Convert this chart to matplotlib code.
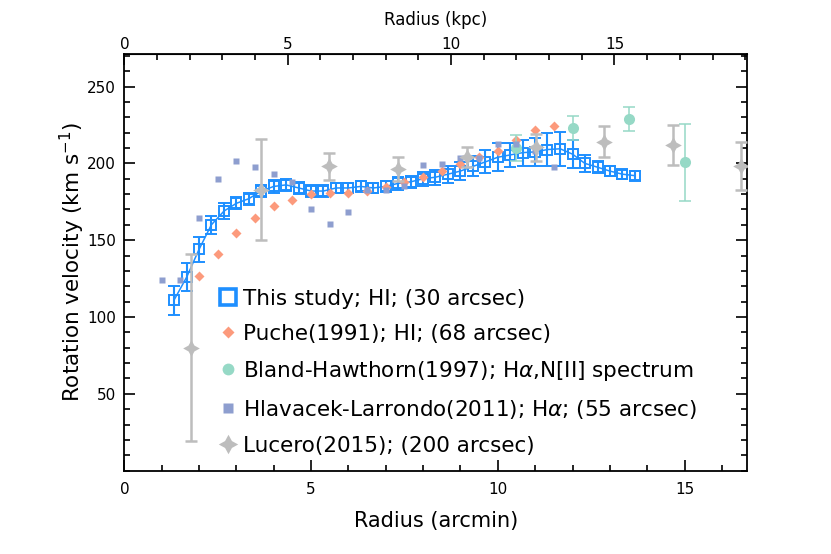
import matplotlib
matplotlib.use('Agg')
import matplotlib.pyplot as plt
from matplotlib.lines import Line2D
from matplotlib.ticker import MultipleLocator, FixedLocator
import numpy as np

plt.rcParams['font.family'] = ['DejaVu Sans']

KPC_PER_ARCMIN = 1.143

# This study; HI (30 arcsec)
hi_r = [1.33, 1.67, 2.00, 2.33, 2.67, 3.00, 3.33, 3.67, 4.00, 4.33, 4.67, 5.00, 5.33,
        5.67, 6.00, 6.33, 6.67, 7.00, 7.33, 7.67, 8.00, 8.33, 8.67, 9.00, 9.33, 9.67,
        10.00, 10.33, 10.67, 11.00, 11.33, 11.67, 12.00, 12.33, 12.67, 13.00, 13.33, 13.67]
hi_v = [111, 126, 144, 160, 169, 174, 177, 182, 185, 186, 184, 182, 182,
        184, 184, 185, 184, 185, 187, 188, 190, 191, 193, 195, 198, 201,
        204, 205.5, 207, 207.5, 209, 209.5, 206, 200, 197.5, 195, 193, 192]
hi_err = [9.5, 9, 8, 6, 5, 4, 4, 4, 4, 4, 4, 4, 4,
          3.5, 3.5, 3.5, 3.5, 3.5, 4, 4, 4.5, 5, 5.5, 6, 6.5, 7.5,
          9, 8, 8.5, 9, 11, 11, 9, 5.5, 4, 3.5, 3, 3]

# Puche (1991)
puche_r = [2.0, 2.5, 3.0, 3.5, 4.0, 4.5, 5.0, 5.5, 6.0, 6.5,
           7.0, 7.5, 8.0, 8.5, 9.0, 9.5, 10.0, 10.5, 11.0, 11.5]
puche_v = [126.5, 141, 154.5, 164.6, 172.3, 176.2, 179.8, 180.8, 181, 182,
           184.6, 188, 191.4, 195.3, 199.6, 204.4, 208.2, 215, 221.7, 224.5]

# Bland-Hawthorn (1997)
bh_r = [10.5, 12.0, 13.5, 15.0]
bh_v = [210, 223, 228.8, 200.6]
bh_err = [8.3, 8, 8, 25]

# Hlavacek-Larrondo (2011)
hl_r = [1.0, 1.5, 2.0, 2.5, 3.0, 3.5, 4.0, 4.5, 5.0, 5.5, 6.0, 6.5,
        7.0, 7.5, 8.0, 8.5, 9.0, 9.5, 10.0, 10.5, 11.0, 11.5]
hl_v = [124.3, 124.3, 164.3, 189.9, 201.3, 197.4, 193.1, 187.6, 170.1, 160.5, 168.4, 182.7,
        182.7, 185.5, 199.1, 199.6, 203.7, 203.5, 212.6, 212.9, 208.2, 197.9]

# Lucero (2015)
luc_r = [1.79, 3.67, 5.49, 7.34, 9.17, 11.01, 12.85, 14.68, 16.51]
luc_v = [80, 183, 198, 196.3, 203.9, 210.4, 214.2, 212, 198.5]
luc_err = [61, 33, 8.7, 8, 6.5, 9, 10, 13, 15.5]

kpc_ticks = [0, 5, 10, 15]

c_hi = '#1E8FFF'
c_puche = '#FC9A7C'
c_bh = '#96D9C6'
c_hl = '#8E9ECF'
c_luc = '#BDBDBD'

fig = plt.figure(figsize=(8.31, 5.54), dpi=100)
ax = fig.add_axes([0.1496, 0.1504, 0.7497, 0.7516])

ax.errorbar(hi_r, hi_v, yerr=hi_err, color=c_hi, marker='s', ms=6.5, mfc='none',
            mec=c_hi, mew=1.4, lw=1.1, elinewidth=1.5, capsize=4.5, capthick=1.5, zorder=2)
ax.plot(puche_r, puche_v, 'D', color=c_puche, ms=5.5, mec='none', zorder=3)
ax.errorbar(bh_r, bh_v, yerr=bh_err, fmt='o', color=c_bh, ms=8, mec='none',
            elinewidth=1.1, capsize=4.5, capthick=1.1, zorder=4)
ax.plot(hl_r, hl_v, 's', color=c_hl, ms=5, mec='none', zorder=5)
ax.errorbar(luc_r, luc_v, yerr=luc_err, fmt='none', ecolor=c_luc,
            elinewidth=1.8, capsize=4.5, capthick=1.8, zorder=6)
ax.plot(luc_r, luc_v, marker=(4, 1, 0), ls='none', color=c_luc, ms=12, mec='none', zorder=7)

ax.set_xlim(0, 16.68)
ax.set_ylim(0, 271)
ax.xaxis.set_major_locator(MultipleLocator(5))
ax.xaxis.set_minor_locator(MultipleLocator(1))
ax.set_yticks([50, 100, 150, 200, 250])
ax.yaxis.set_minor_locator(MultipleLocator(10))
ax.tick_params(which='both', direction='in', right=True, width=1.2, labelsize=11)
ax.tick_params(axis='x', pad=8)
ax.tick_params(axis='y', pad=6)
ax.tick_params(which='major', length=8)
ax.tick_params(which='minor', length=4)
for s in ax.spines.values():
    s.set_linewidth(1.3)

ax.set_xlabel('Radius (arcmin)', fontsize=15, labelpad=10)
ax.set_ylabel('Rotation velocity (km s$^{-1}$)', fontsize=15.5, labelpad=0)

top = ax.secondary_xaxis('top', functions=(lambda x: x * KPC_PER_ARCMIN,
                                           lambda x: x / KPC_PER_ARCMIN))
top.xaxis.set_major_locator(FixedLocator(kpc_ticks))
top.xaxis.set_minor_locator(FixedLocator(np.arange(0, 20)))
top.tick_params(which='both', direction='in', width=1.2, labelsize=11, pad=2)
top.tick_params(which='major', length=8)
top.tick_params(which='minor', length=4)
top.set_xlabel('Radius (kpc)', fontsize=12, labelpad=8)

handles = [
    Line2D([], [], ls='none', marker='s', ms=11, mfc='none', mec=c_hi, mew=2.6),
    Line2D([], [], ls='none', marker='D', ms=6, color=c_puche, mec='none'),
    Line2D([], [], ls='none', marker='o', ms=8.5, color=c_bh, mec='none'),
    Line2D([], [], ls='none', marker='s', ms=6.5, color=c_hl, mec='none'),
    Line2D([], [], ls='none', marker=(4, 1, 0), ms=14, color=c_luc, mec='none'),
]
labels = ['This study; HI; (30 arcsec)',
          'Puche(1991); HI; (68 arcsec)',
          'Bland-Hawthorn(1997); H$\\alpha$,N[II] spectrum',
          'Hlavacek-Larrondo(2011); H$\\alpha$; (55 arcsec)',
          'Lucero(2015); (200 arcsec)']
ax.legend(handles, labels, loc='upper left', bbox_to_anchor=(0.152, 0.437),
          frameon=False, prop={'size': 15.5}, handlelength=0.8, handletextpad=0.3,
          labelspacing=0.7, borderpad=0, borderaxespad=0)

fig.savefig('out.png', dpi=100)
